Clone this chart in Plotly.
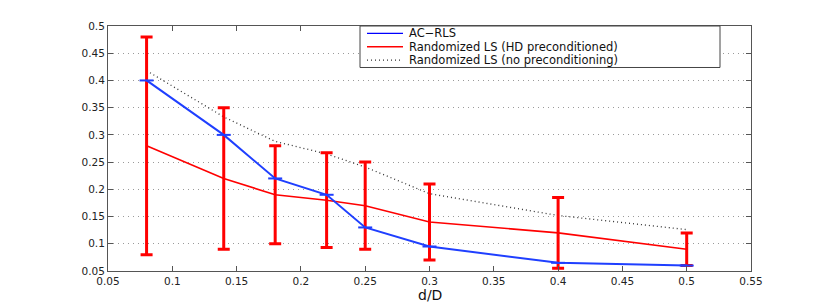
import plotly.graph_objects as go

x = [0.08, 0.14, 0.18, 0.22, 0.25, 0.3, 0.4, 0.5]
ac_rls = [0.40, 0.30, 0.22, 0.19, 0.13, 0.095, 0.065, 0.06]
rls_hd = [0.28, 0.22, 0.19, 0.18, 0.17, 0.14, 0.12, 0.09]
rls_hd_upper = [0.48, 0.35, 0.28, 0.267, 0.25, 0.21, 0.185, 0.12]
rls_hd_lower = [0.08, 0.09, 0.10, 0.093, 0.09, 0.07, 0.055, 0.06]
rls_noprec = [0.418, 0.333, 0.288, 0.265, 0.241, 0.192, 0.152, 0.126]

legend_labels = ["AC\u2212RLS", "Randomized LS (HD preconditioned)", "Randomized LS (no preconditioning)"]
legend_colors = ["#0000ff", "#ff0000", "#333333"]
legend_dashes = ["solid", "solid", "1px,3px"]

xticks = [0.05, 0.1, 0.15, 0.2, 0.25, 0.3, 0.35, 0.4, 0.45, 0.5, 0.55]
xticklabels = ["0.05", "0.1", "0.15", "0.2", "0.25", "0.3", "0.35", "0.4", "0.45", "0.5", "0.55"]
yticks = [0.05, 0.1, 0.15, 0.2, 0.25, 0.3, 0.35, 0.4, 0.45, 0.5]
yticklabels = ["0.05", "0.1", "0.15", "0.2", "0.25", "0.3", "0.35", "0.4", "0.45", "0.5"]
x_title = "d/D"

FONT = "DejaVu Sans, Liberation Sans, Arial, sans-serif"

err_plus = [u - v for u, v in zip(rls_hd_upper, rls_hd)]
err_minus = [v - l for v, l in zip(rls_hd, rls_hd_lower)]

fig = go.Figure()
fig.add_trace(go.Scatter(
    x=x, y=rls_noprec, mode="lines", name=legend_labels[2],
    line=dict(color="#333333", width=1.3, dash="1px,3px")))
fig.add_trace(go.Scatter(
    x=x, y=rls_hd, mode="lines", name=legend_labels[1],
    line=dict(color="#ff0000", width=1.6),
    error_y=dict(type="data", symmetric=False, array=err_plus, arrayminus=err_minus,
                 color="#ff0000", thickness=3, width=6)))
fig.add_trace(go.Scatter(
    x=x, y=ac_rls, mode="lines+markers", name=legend_labels[0],
    line=dict(color="#1f3fff", width=2),
    marker=dict(symbol="line-ew", size=10, line=dict(color="#1f3fff", width=2))))

# The page body has an 8px margin; plot area in page pixels is x 108..751, y 23..271
def px_x(p):
    return (p - 108) / 643.0

def px_y(p):
    return (271 - p) / 248.0

shapes = [dict(type="rect", xref="paper", yref="paper",
               x0=px_x(360), x1=px_x(720), y0=px_y(65), y1=px_y(23),
               line=dict(color="#444444", width=1), fillcolor="white", layer="above")]
annotations = []
row_y = [30.5, 44, 57.5]
for lab, col, dsh, ry in zip(legend_labels, legend_colors, legend_dashes, row_y):
    shapes.append(dict(type="line", xref="paper", yref="paper",
                       x0=px_x(367), x1=px_x(403), y0=px_y(ry), y1=px_y(ry),
                       line=dict(color=col, width=1.3, dash=dsh), layer="above"))
    annotations.append(dict(xref="paper", yref="paper", x=px_x(408), y=px_y(ry),
                            xanchor="left", yanchor="middle", text=lab, showarrow=False,
                            borderpad=0,
                            font=dict(family=FONT, size=11.5, color="#111111")))

annotations.append(dict(xref="paper", yref="paper", x=0.5, y=px_y(295),
                        xanchor="center", yanchor="middle", text=x_title, showarrow=False,
                        borderpad=0,
                        font=dict(family=FONT, size=14, color="#111111")))

axis_common = dict(showline=True, linecolor="#555555", linewidth=1, mirror="ticks",
                   ticks="inside", ticklen=5, tickcolor="#555555",
                   tickfont=dict(family=FONT, size=10.5, color="#222222"),
                   zeroline=False)

fig.update_xaxes(range=[0.05, 0.55], tickvals=xticks, ticktext=xticklabels, showgrid=False,
                 ticklabelstandoff=0, **axis_common)
fig.update_yaxes(range=[0.05, 0.5], tickvals=yticks, ticktext=yticklabels, showgrid=True,
                 gridcolor="#9a9a9a", griddash="1px,4px", gridwidth=1, **axis_common)

fig.update_layout(
    width=822, height=297,
    margin=dict(l=100, r=79, t=15, b=34),
    paper_bgcolor="white", plot_bgcolor="white",
    font=dict(family=FONT, color="#222222"),
    showlegend=False,
    shapes=shapes, annotations=annotations,
)

fig.write_html("out.html")
